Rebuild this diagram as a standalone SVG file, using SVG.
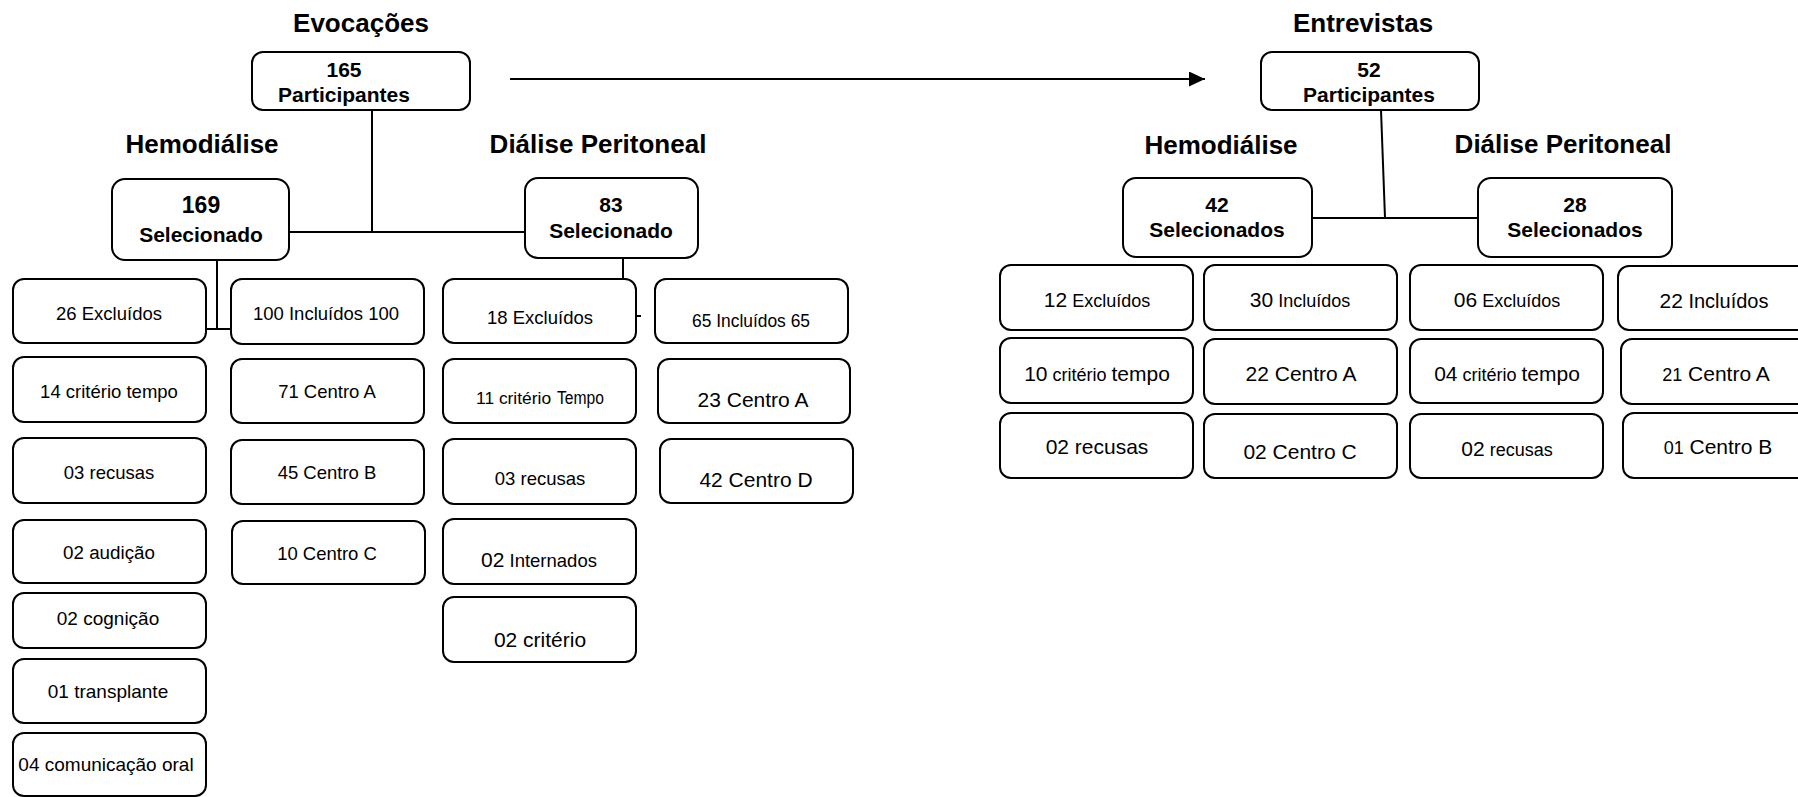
<svg xmlns="http://www.w3.org/2000/svg" width="1798" height="797" viewBox="0 0 1798 797">
  <style>
    .box { fill: #ffffff; stroke: #000000; stroke-width: 2; }
    .conn { fill: none; stroke: #000000; stroke-width: 2; }
    text { font-family: "Liberation Sans", Arial, sans-serif; fill: #000000; }
    .c { text-anchor: middle; }
    .title { font-size: 26px; font-weight: bold; }
    .hd { font-size: 21px; font-weight: bold; }
    .n { font-size: 18.5px; }
  </style>
  <defs>
    <marker id="arrow" markerWidth="16" markerHeight="15" refX="16" refY="7.5" orient="auto" markerUnits="userSpaceOnUse">
      <path d="M0,0 L16,7.5 L0,15 Z" fill="#000000"/>
    </marker>
  </defs>
  <rect width="1798" height="797" fill="#ffffff"/>

  <!-- section titles -->
  <g id="titles">
    <text class="title c" x="361" y="32">Evocações</text>
    <text class="title c" x="202" y="153">Hemodiálise</text>
    <text class="title c" x="598" y="153">Diálise Peritoneal</text>
    <text class="title c" x="1363" y="32">Entrevistas</text>
    <text class="title c" x="1221" y="154">Hemodiálise</text>
    <text class="title c" x="1563" y="153">Diálise Peritoneal</text>
  </g>

  <!-- connectors -->
  <g id="connectors">
    <line class="conn" x1="510" y1="79" x2="1205" y2="79" marker-end="url(#arrow)"/>
    <polyline class="conn" points="372,110 372,232"/>
    <line class="conn" x1="289" y1="232" x2="525" y2="232"/>
    <line class="conn" x1="217" y1="260" x2="217" y2="329"/>
    <line class="conn" x1="205" y1="329" x2="231" y2="329"/>
    <line class="conn" x1="623" y1="258" x2="623" y2="279"/>
    <line class="conn" x1="636" y1="316" x2="641" y2="316"/>
    <line class="conn" x1="1381" y1="110" x2="1385" y2="218"/>
    <line class="conn" x1="1312" y1="218" x2="1478" y2="218"/>
  </g>

  <!-- Evocações tree -->
  <g id="evoc-total">
    <rect class="box" x="252" y="52" width="218" height="58" rx="11"/>
    <text class="hd c" x="344" y="77">165</text>
    <text class="hd c" x="344" y="102">Participantes</text>
  </g>
  <g id="evoc-hd">
    <rect class="box" x="112" y="179" width="177" height="81" rx="13"/>
    <text class="c" x="201" y="213" font-size="23" font-weight="bold">169</text>
    <text class="hd c" x="201" y="242">Selecionado</text>
  </g>
  <g id="evoc-dp">
    <rect class="box" x="525" y="178" width="173" height="80" rx="13"/>
    <text class="hd c" x="611" y="212">83</text>
    <text class="hd c" x="611" y="238">Selecionado</text>
  </g>

  <!-- Hemodiálise: excluídos -->
  <g id="hd-excl">
    <rect class="box" x="13" y="279" width="193" height="64" rx="11"/>
    <text class="n c" x="109" y="320">26 Excluídos</text>
  </g>
  <g id="hd-excl-tempo">
    <rect class="box" x="13" y="357" width="193" height="65" rx="11"/>
    <text class="n c" x="109" y="398">14 critério tempo</text>
  </g>
  <g id="hd-excl-recusas">
    <rect class="box" x="13" y="438" width="193" height="65" rx="11"/>
    <text class="n c" x="109" y="479">03 recusas</text>
  </g>
  <g id="hd-excl-audicao">
    <rect class="box" x="13" y="520" width="193" height="63" rx="11"/>
    <text class="c" x="109" y="559" font-size="18.8">02 audição</text>
  </g>
  <g id="hd-excl-cognicao">
    <rect class="box" x="13" y="593" width="193" height="55" rx="11"/>
    <text class="c" x="108" y="625" font-size="19">02 cognição</text>
  </g>
  <g id="hd-excl-transplante">
    <rect class="box" x="13" y="659" width="193" height="64" rx="11"/>
    <text class="c" x="108" y="698" font-size="19">01 transplante</text>
  </g>
  <g id="hd-excl-comunicacao">
    <rect class="box" x="13" y="733" width="193" height="63" rx="11"/>
    <text class="c" x="106" y="771" font-size="19">04 comunicação oral</text>
  </g>

  <!-- Hemodiálise: incluídos -->
  <g id="hd-incl">
    <rect class="box" x="231" y="279" width="193" height="65" rx="11"/>
    <text class="n c" x="326" y="320">100 Incluídos 100</text>
  </g>
  <g id="hd-incl-a">
    <rect class="box" x="231" y="359" width="193" height="64" rx="11"/>
    <text class="n c" x="327" y="398">71 Centro A</text>
  </g>
  <g id="hd-incl-b">
    <rect class="box" x="231" y="440" width="193" height="64" rx="11"/>
    <text class="n c" x="327" y="479">45 Centro B</text>
  </g>
  <g id="hd-incl-c">
    <rect class="box" x="232" y="521" width="193" height="63" rx="11"/>
    <text class="n c" x="327" y="560">10 Centro C</text>
  </g>

  <!-- Diálise Peritoneal: excluídos -->
  <g id="dp-excl">
    <rect class="box" x="443" y="279" width="193" height="64" rx="11"/>
    <text class="n c" x="540" y="324">18 Excluídos</text>
  </g>
  <g id="dp-excl-tempo">
    <rect class="box" x="443" y="359" width="193" height="64" rx="11"/>
    <text x="476" y="404" font-size="17.4">11 critério</text>
    <text x="557" y="404" font-size="18" textLength="47" lengthAdjust="spacingAndGlyphs">Tempo</text>
  </g>
  <g id="dp-excl-recusas">
    <rect class="box" x="443" y="439" width="193" height="65" rx="11"/>
    <text class="n c" x="540" y="485">03 recusas</text>
  </g>
  <g id="dp-excl-internados">
    <rect class="box" x="443" y="519" width="193" height="65" rx="11"/>
    <text x="481" y="567"><tspan font-size="21">02</tspan><tspan font-size="18.5"> Internados</tspan></text>
  </g>
  <g id="dp-excl-criterio">
    <rect class="box" x="443" y="597" width="193" height="65" rx="11"/>
    <text class="c" x="540" y="647" font-size="21">02 critério</text>
  </g>

  <!-- Diálise Peritoneal: incluídos -->
  <g id="dp-incl">
    <rect class="box" x="655" y="279" width="193" height="64" rx="11"/>
    <text x="692" y="327" font-size="19" textLength="118" lengthAdjust="spacingAndGlyphs">65 Incluídos 65</text>
  </g>
  <g id="dp-incl-a">
    <rect class="box" x="658" y="359" width="192" height="64" rx="11"/>
    <text class="c" x="753" y="407" font-size="21">23 Centro A</text>
  </g>
  <g id="dp-incl-d">
    <rect class="box" x="660" y="439" width="193" height="64" rx="11"/>
    <text class="c" x="756" y="487" font-size="21">42 Centro D</text>
  </g>

  <!-- Entrevistas tree -->
  <g id="entr-total">
    <rect class="box" x="1261" y="52" width="218" height="58" rx="11"/>
    <text class="hd c" x="1369" y="77">52</text>
    <text class="hd c" x="1369" y="102">Participantes</text>
  </g>
  <g id="entr-hd">
    <rect class="box" x="1123" y="178" width="189" height="79" rx="13"/>
    <text class="hd c" x="1217" y="212">42</text>
    <text class="hd c" x="1217" y="237">Selecionados</text>
  </g>
  <g id="entr-dp">
    <rect class="box" x="1478" y="178" width="194" height="79" rx="13"/>
    <text class="hd c" x="1575" y="212">28</text>
    <text class="hd c" x="1575" y="237">Selecionados</text>
  </g>

  <!-- Entrevistas: hemodiálise -->
  <g id="entr-hd-excl">
    <rect class="box" x="1000" y="265" width="193" height="65" rx="11"/>
    <text class="c" x="1097" y="307"><tspan font-size="21">12</tspan><tspan font-size="18"> Excluídos</tspan></text>
  </g>
  <g id="entr-hd-excl-tempo">
    <rect class="box" x="1000" y="338" width="193" height="65" rx="11"/>
    <text class="c" x="1097" y="381"><tspan font-size="21">10</tspan><tspan font-size="18"> critério </tspan><tspan font-size="21">tempo</tspan></text>
  </g>
  <g id="entr-hd-excl-recusas">
    <rect class="box" x="1000" y="413" width="193" height="65" rx="11"/>
    <text class="c" x="1097" y="454" font-size="21">02 recusas</text>
  </g>
  <g id="entr-hd-incl">
    <rect class="box" x="1204" y="265" width="193" height="65" rx="11"/>
    <text class="c" x="1300" y="307"><tspan font-size="21">30</tspan><tspan font-size="18"> Incluídos</tspan></text>
  </g>
  <g id="entr-hd-incl-a">
    <rect class="box" x="1204" y="339" width="193" height="65" rx="11"/>
    <text class="c" x="1301" y="381" font-size="21">22 Centro A</text>
  </g>
  <g id="entr-hd-incl-c">
    <rect class="box" x="1204" y="414" width="193" height="64" rx="11"/>
    <text class="c" x="1300" y="459" font-size="21">02 Centro C</text>
  </g>

  <!-- Entrevistas: diálise peritoneal -->
  <g id="entr-dp-excl">
    <rect class="box" x="1410" y="265" width="193" height="65" rx="11"/>
    <text class="c" x="1507" y="307"><tspan font-size="21">06</tspan><tspan font-size="18"> Excluídos</tspan></text>
  </g>
  <g id="entr-dp-excl-tempo">
    <rect class="box" x="1410" y="339" width="193" height="64" rx="11"/>
    <text class="c" x="1507" y="381"><tspan font-size="21">04</tspan><tspan font-size="18"> critério </tspan><tspan font-size="21">tempo</tspan></text>
  </g>
  <g id="entr-dp-excl-recusas">
    <rect class="box" x="1410" y="414" width="193" height="64" rx="11"/>
    <text class="c" x="1507" y="456"><tspan font-size="21">02</tspan><tspan font-size="18"> recusas</tspan></text>
  </g>
  <g id="entr-dp-incl">
    <rect class="box" x="1618" y="266" width="193" height="64" rx="11"/>
    <text class="c" x="1714" y="308"><tspan font-size="21">22</tspan><tspan font-size="20"> Incluídos</tspan></text>
  </g>
  <g id="entr-dp-incl-a">
    <rect class="box" x="1621" y="339" width="193" height="65" rx="11"/>
    <text class="c" x="1716" y="381"><tspan font-size="18">21</tspan><tspan font-size="21"> Centro A</tspan></text>
  </g>
  <g id="entr-dp-incl-b">
    <rect class="box" x="1623" y="413" width="193" height="65" rx="11"/>
    <text class="c" x="1718" y="454"><tspan font-size="18">01</tspan><tspan font-size="21"> Centro B</tspan></text>
  </g>
</svg>
